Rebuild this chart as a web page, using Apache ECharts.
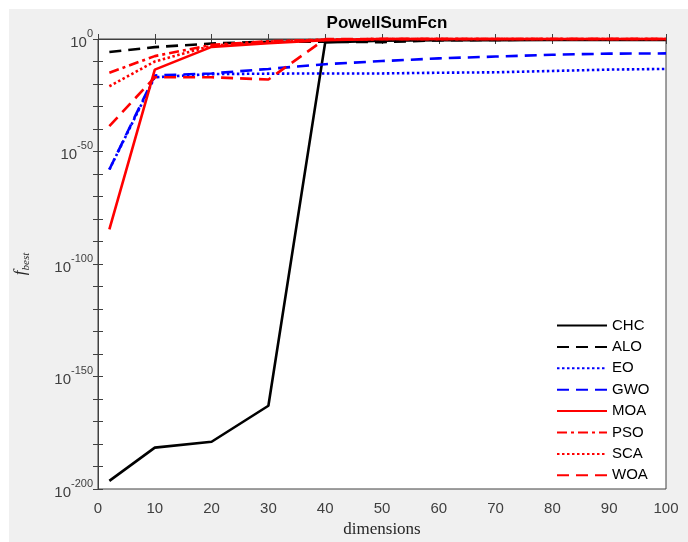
<!DOCTYPE html>
<html>
<head>
<meta charset="utf-8">
<script src="https://cdn.jsdelivr.net/npm/echarts@6/dist/echarts.min.js"></script>
<style>
html,body{margin:0;padding:0;background:#fff;width:688px;height:542px;overflow:hidden;}
#chart{position:absolute;left:9px;top:9px;width:679px;height:533px;}
</style>
</head>
<body>
<div id="chart"></div>
<script>
// x positions (dimensions)
const dims = [2, 10, 20, 30, 40, 50, 60, 70, 80, 90, 100];
// values are log10(f_best)
const CHC = [-196.4, -181.6, -179.0, -163.0, -1.5, -0.8, -0.5, -0.5, -0.4, -0.4, -0.4];
const ALO = [-5.8, -3.6, -2.0, -1.2, -1.2, -1.4, -0.6, -0.4, -0.3, -0.3, -0.3];
const EO  = [-58.0, -17.0, -15.6, -15.4, -15.3, -15.3, -15.0, -14.8, -14.2, -13.6, -13.3];
const GWO = [-58.0, -16.2, -15.3, -13.3, -11.2, -9.8, -8.6, -7.8, -7.0, -6.5, -6.4];
const MOA = [-84.6, -13.6, -3.5, -1.9, -0.5, 0, 0, 0, 0, 0, 0];
const PSO = [-15.0, -7.6, -2.6, -1.0, -0.3, 0, 0, 0, 0, 0, 0];
const SCA = [-21.0, -10.0, -3.0, -1.2, -0.3, 0, 0, 0, 0, 0, 0];
const WOA = [-38.7, -17.0, -17.0, -18.0, 0, 0, 0, 0, 0, 0, 0];
const names = ['CHC','ALO','EO','GWO','MOA','PSO','SCA','WOA'];
const yTicks = [-200, -150, -100, -50, 0];

const styles = {
  CHC: {color:'#000000', type:'solid'},
  ALO: {color:'#000000', type:[12,7]},
  EO:  {color:'#0000ff', type:[2.5,2.5]},
  GWO: {color:'#0000ff', type:[12,7]},
  MOA: {color:'#ff0000', type:'solid'},
  PSO: {color:'#ff0000', type:[10,4,3,4]},
  SCA: {color:'#ff0000', type:[2.5,2.5]},
  WOA: {color:'#ff0000', type:[12,7]}
};
const seriesData = {CHC, ALO, EO, GWO, MOA, PSO, SCA, WOA};

const axisColor = '#404040';
const chart = echarts.init(document.getElementById('chart'));
const series = names.map(n => ({
  name: n,
  type: 'line',
  xAxisIndex: 0,
  yAxisIndex: 0,
  data: dims.map((d, i) => [d, seriesData[n][i]]),
  symbol: 'none',
  clip: false,
  color: styles[n].color,
  lineStyle: {color: styles[n].color, width: 2.6, type: styles[n].type},
  itemStyle: {color: styles[n].color},
  emphasis: {disabled: true},
  animation: false
}));

chart.setOption({
  backgroundColor: '#f0f0f0',
  animation: false,
  title: {
    text: 'PowellSumFcn',
    left: 373, top: 1, textAlign: 'center',
    textStyle: {fontFamily: 'Liberation Sans', fontSize: 17, fontWeight: 'bold', color: '#000'}
  },
  grid: {
    left: 89, top: 30, width: 568, height: 450,
    outerBoundsMode: 'none', containLabel: false,
    show: true, backgroundColor: '#ffffff', borderColor: axisColor, borderWidth: 1
  },
  legend: {
    data: names,
    orient: 'vertical',
    left: 542, top: 304,
    itemWidth: 50, itemHeight: 14, itemGap: 6.4,
    itemStyle: {opacity: 0, borderWidth: 0},
    textStyle: {fontFamily: 'Liberation Sans', fontSize: 15, color: '#000'},
    backgroundColor: 'transparent'
  },
  xAxis: [{
    type: 'value', min: 0, max: 100, interval: 10, position: 'bottom',
    name: 'dimensions', nameLocation: 'middle', nameGap: 32,
    nameTextStyle: {fontFamily: 'Liberation Serif', fontSize: 17, color: '#262626'},
    axisLine: {show: true, lineStyle: {color: axisColor, width: 1}},
    axisTick: {show: true, inside: true, length: 5, lineStyle: {color: axisColor}},
    axisLabel: {fontFamily: 'Liberation Sans', fontSize: 15, color: '#404040', margin: 12},
    splitLine: {show: false}
  }, {
    type: 'value', min: 0, max: 100, interval: 10, position: 'top',
    axisLine: {show: true, lineStyle: {color: axisColor, width: 1}},
    axisTick: {show: true, inside: true, length: 5, lineStyle: {color: axisColor}},
    axisLabel: {show: false}, splitLine: {show: false}
  }],
  yAxis: [{
    type: 'value', min: yTicks[0], max: yTicks[yTicks.length-1], interval: 50, position: 'left',
    name: '{f|f}{s|best}', nameLocation: 'middle', nameGap: 66,
    nameTextStyle: {
      rich: {
        f: {fontFamily: 'Liberation Serif', fontStyle: 'italic', fontSize: 17, lineHeight: 20, color: '#262626', verticalAlign: 'top'},
        s: {fontFamily: 'Liberation Serif', fontStyle: 'italic', fontSize: 11, lineHeight: 12, color: '#262626', verticalAlign: 'bottom'}
      }
    },
    axisLine: {show: true, lineStyle: {color: axisColor, width: 1}},
    axisTick: {show: true, inside: true, length: 5, lineStyle: {color: axisColor}},
    minorTick: {show: true, splitNumber: 5, length: 5, lineStyle: {color: axisColor}},
    axisLabel: {
      margin: 5,
      formatter: v => '{b|10}{s|' + v + '}',
      rich: {
        b: {fontFamily: 'Liberation Sans', fontSize: 15, lineHeight: 22, color: '#404040', verticalAlign: 'bottom'},
        s: {fontFamily: 'Liberation Sans', fontSize: 11, lineHeight: 12, color: '#404040', verticalAlign: 'top'}
      }
    },
    splitLine: {show: false}
  }, {
    type: 'value', min: yTicks[0], max: yTicks[yTicks.length-1], interval: 50, position: 'right',
    axisLine: {show: true, lineStyle: {color: axisColor, width: 1}},
    axisTick: {show: true, inside: true, length: 5, lineStyle: {color: axisColor}},
    minorTick: {show: true, splitNumber: 5, length: 5, lineStyle: {color: axisColor}},
    axisLabel: {show: false}, splitLine: {show: false}
  }],
  series: series
});
</script>
</body>
</html>
